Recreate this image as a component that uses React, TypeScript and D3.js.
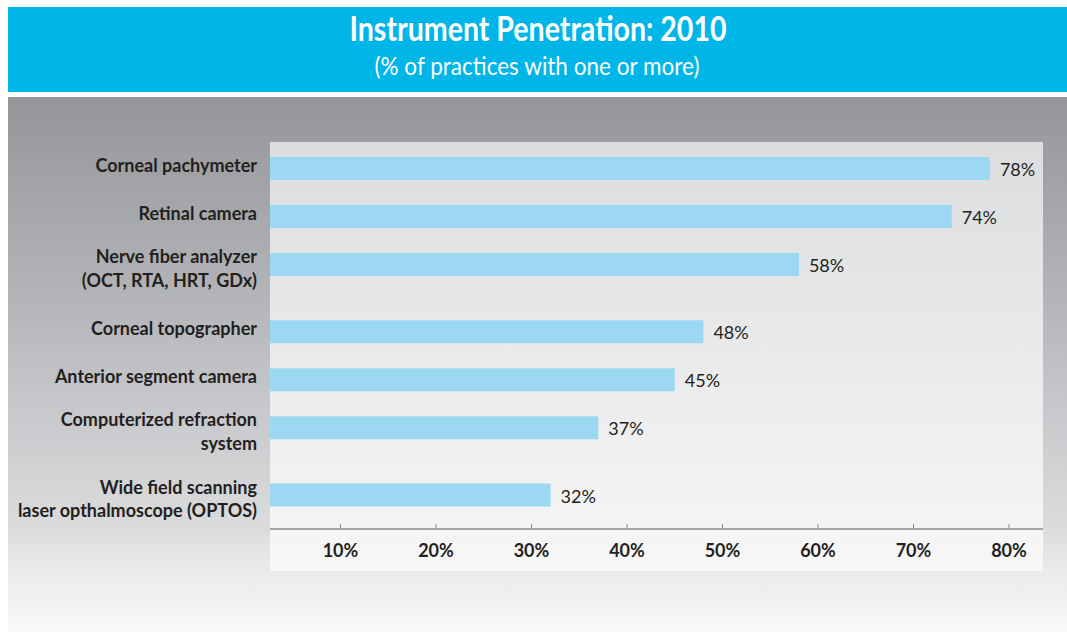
import React from "react";
import * as d3 from "d3";

const titleText = "Instrument Penetration: 2010";
const subtitleText = "(% of practices with one or more)";
const categories: string[][] = [
  ["Corneal pachymeter"],
  ["Retinal camera"],
  ["Nerve fiber analyzer", "(OCT, RTA, HRT, GDx)"],
  ["Corneal topographer"],
  ["Anterior segment camera"],
  ["Computerized refraction", "system"],
  ["Wide field scanning", "laser opthalmoscope (OPTOS)"],
];
const values = [78, 74, 58, 48, 45, 37, 32];
const tickValues = [10, 20, 30, 40, 50, 60, 70, 80];

const W = 1067;
const H = 632;
const panel = { left: 270, right: 1043, top: 142, bottom: 571 };
const axisY = 529;
const barH = 23;
const dark = "#231f20";
const font = "Lato, 'Open Sans', sans-serif";

export default function App() {
  const x = d3.scaleLinear().domain([0, 80]).range([245, 1009]);
  // slot units: a two-line label adds extra space after it
  const units: number[] = [];
  let acc = 0;
  categories.forEach((c, i) => {
    if (i > 0) acc += categories[i - 1].length > 1 ? 1.4 : 1;
    units.push(acc);
  });
  const y = d3.scaleLinear().domain([0, acc]).range([168.5, 495]);

  return (
    <svg
      width={W}
      height={H}
      style={{ position: "absolute", left: 0, top: 0 }}
      fontFamily={font}
    >
      <defs>
        <linearGradient id="outerGrad" x1="0" y1="0" x2="0" y2="1">
          <stop offset="0" stopColor="#95969a" />
          <stop offset="0.36" stopColor="#b2b3b6" />
          <stop offset="0.57" stopColor="#c6c7ca" />
          <stop offset="0.81" stopColor="#dcdcde" />
          <stop offset="0.87" stopColor="#e8e8ea" />
          <stop offset="1" stopColor="#f9f9f9" />
        </linearGradient>
        <linearGradient id="innerGrad" x1="0" y1="0" x2="0" y2="1">
          <stop offset="0" stopColor="#dcdddf" />
          <stop offset="1" stopColor="#f7f7f7" />
        </linearGradient>
      </defs>
      <rect x={0} y={0} width={W} height={H} fill="#ffffff" />
      <rect x={8} y={7} width={W - 8} height={85} fill="#00b5e8" />
      <text
        x={538}
        y={41}
        textAnchor="middle"
        fill="#ffffff"
        fontWeight={700}
        fontSize={34}
        textLength={377}
        lengthAdjust="spacingAndGlyphs"
      >
        {titleText}
      </text>
      <text
        x={537}
        y={75}
        textAnchor="middle"
        fill="#ffffff"
        fontSize={25}
        textLength={325}
        lengthAdjust="spacingAndGlyphs"
      >
        {subtitleText}
      </text>
      <rect x={8} y={97} width={W - 8} height={H - 97} fill="url(#outerGrad)" />
      <rect
        x={panel.left}
        y={panel.top}
        width={panel.right - panel.left}
        height={panel.bottom - panel.top}
        fill="url(#innerGrad)"
      />
      {values.map((v, i) => {
        const cy = y(units[i]);
        return (
          <g key={i}>
            <rect
              x={panel.left}
              y={cy - barH / 2}
              width={x(v) - panel.left}
              height={barH}
              fill="#9dd8f2"
            />
            <text x={x(v) + 10} y={cy + 7.5} fill={dark} fontSize={18}>
              {v}%
            </text>
          </g>
        );
      })}
      {categories.map((lines, i) => {
        const cy = y(units[i]);
        const base = lines.length > 1 ? cy - 1.5 : cy + 3;
        return (
          <text
            key={i}
            textAnchor="end"
            fill={dark}
            fontWeight={700}
            fontSize={18}
          >
            {lines.map((l, j) => (
              <tspan key={j} x={257} y={base + j * 23.5}>
                {l}
              </tspan>
            ))}
          </text>
        );
      })}
      <line
        x1={panel.left}
        x2={panel.right}
        y1={axisY}
        y2={axisY}
        stroke="#555555"
        strokeWidth={1}
      />
      {tickValues.map((t) => (
        <g key={t}>
          <line
            x1={x(t)}
            x2={x(t)}
            y1={axisY}
            y2={axisY - 5}
            stroke="#8a8a8a"
            strokeWidth={1}
          />
          <text
            x={x(t)}
            y={557}
            textAnchor="middle"
            fill={dark}
            fontWeight={700}
            fontSize={18}
          >
            {t}%
          </text>
        </g>
      ))}
    </svg>
  );
}
